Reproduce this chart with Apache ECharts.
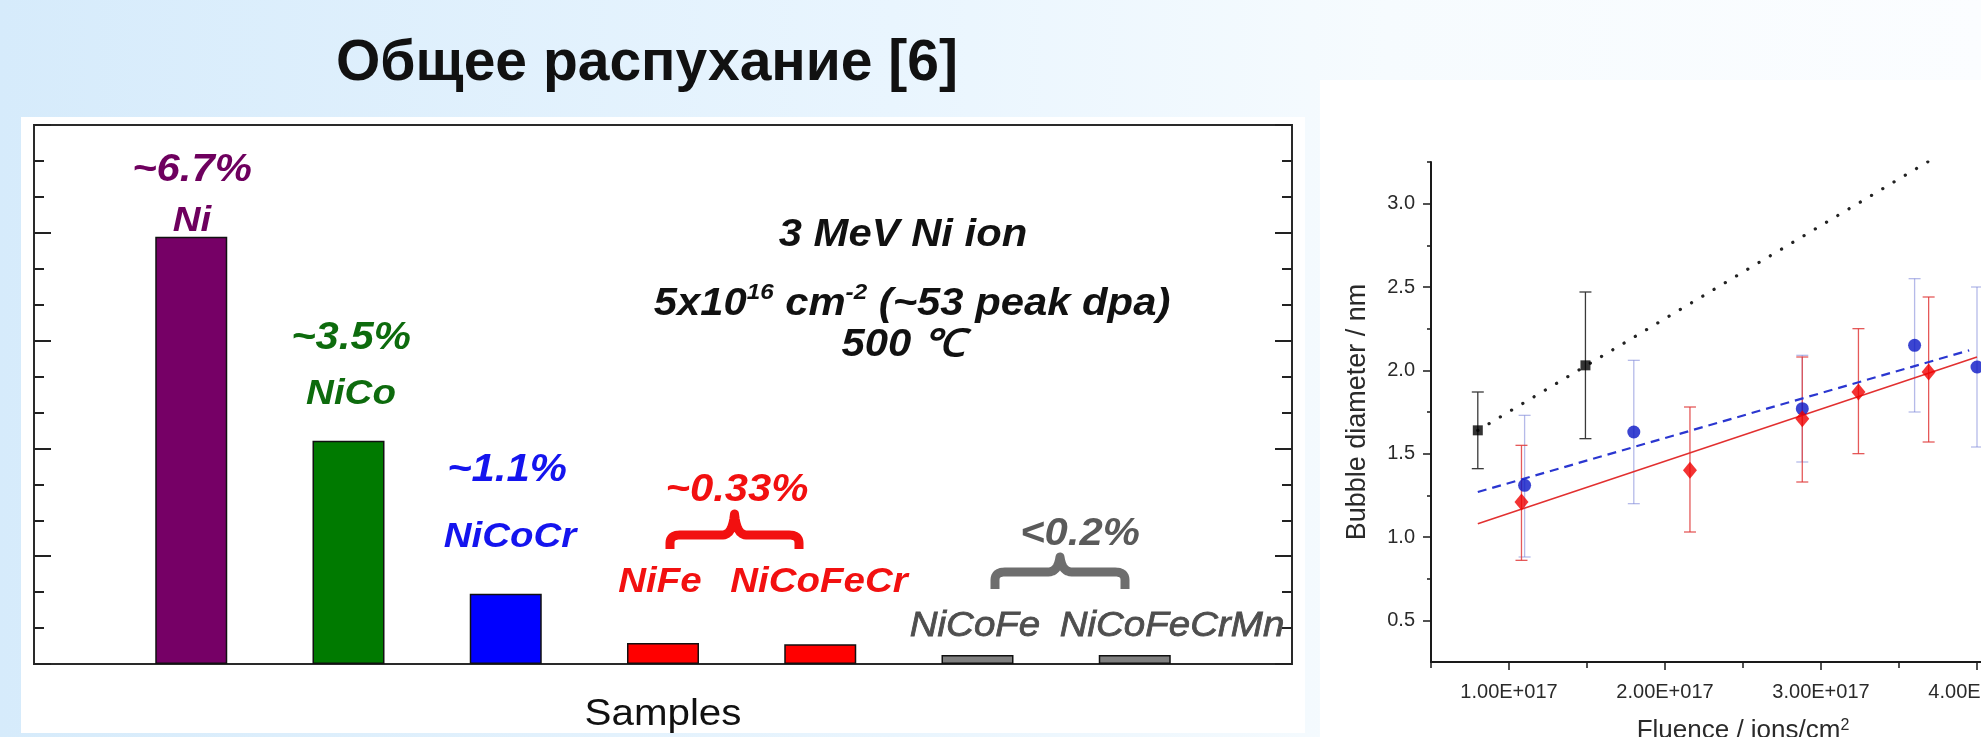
<!DOCTYPE html>
<html>
<head>
<meta charset="utf-8">
<script src="https://cdn.jsdelivr.net/npm/echarts@6/dist/echarts.min.js"></script>
<style>
  html, body { margin: 0; padding: 0; width: 1981px; height: 737px; overflow: hidden; }
  #c { width: 1981px; height: 737px; }
</style>
</head>
<body>
<div id="c"></div>
<script>
// ---- Overall swelling of Ni-based alloys (3 MeV Ni ions, 500 °C) ----
const samples = ['Ni', 'NiCo', 'NiCoCr', 'NiFe', 'NiCoFeCr', 'NiCoFe', 'NiCoFeCrMn'];
const swelling = [6.7, 3.5, 1.1, 0.33, 0.31, 0.14, 0.14];   // %
const barColors = ['#760066', '#007a00', '#0000ff', '#ff0000', '#ff0000', '#808080', '#808080'];

// ---- Bubble diameter vs fluence (fluence in units of 1E+017 ions/cm2) ----
const squareFluence = [0.80, 1.49];
const squareDiam    = [1.64, 2.03];
const squareLow     = [1.41, 1.59];
const squareHigh    = [1.87, 2.47];

const circleFluence = [1.10, 1.80, 2.88, 3.60, 4.00];
const circleDiam    = [1.31, 1.63, 1.77, 2.15, 2.02];
const circleLow     = [0.88, 1.20, 1.45, 1.75, 1.54];
const circleHigh    = [1.73, 2.06, 2.09, 2.55, 2.50];

const diamondFluence = [1.08, 2.16, 2.88, 3.24, 3.69];
const diamondDiam    = [1.21, 1.40, 1.71, 1.87, 1.99];
const diamondLow     = [0.86, 1.03, 1.33, 1.50, 1.57];
const diamondHigh    = [1.55, 1.78, 2.08, 2.25, 2.44];

// linear fits (end points)
const squareFit  = [[0.80, 1.64], [3.70, 3.26]];
const circleFit  = [[0.80, 1.27], [3.95, 2.12]];
const diamondFit = [[0.80, 1.08], [4.00, 2.08]];

const fluenceTicks = [1, 2, 3, 4];
const diamTicks = [0.5, 1.0, 1.5, 2.0, 2.5, 3.0];

const FONT = "'Liberation Sans', Arial, Helvetica, sans-serif";
const chart = echarts.init(document.getElementById('c'));

function txt(text, x, y, color, size, o = {}) {
  return {
    type: 'text', x, y, z: 100, silent: true, scaleX: o.sx ?? 1.1,
    style: {
      text, fill: color, fontSize: size, fontFamily: FONT,
      fontWeight: o.weight ?? 'bold', fontStyle: o.italic === false ? 'normal' : 'italic',
      align: 'center', verticalAlign: 'middle', lineHeight: o.lh, rich: o.rich,
      stroke: o.stroke ? color : null, lineWidth: o.stroke || 0
    }
  };
}

// curly brace opening downwards, as a sampled polyline
function brace(x0, x1, yTop, yMid, yEnd, color) {
  const c = (x0 + x1) / 2;
  const pts = [];
  const quad = (p0, p1, p2) => {
    for (let t = 0; t <= 1.0001; t += 0.125) {
      const u = 1 - t;
      pts.push([u * u * p0[0] + 2 * u * t * p1[0] + t * t * p2[0],
                u * u * p0[1] + 2 * u * t * p1[1] + t * t * p2[1]]);
    }
  };
  pts.push([x0, yEnd]);
  quad([x0, yMid + 8], [x0, yMid], [x0 + 10, yMid]);
  pts.push([c - 12, yMid]);
  quad([c - 12, yMid], [c - 2, yMid], [c, yTop]);
  quad([c, yTop], [c + 2, yMid], [c + 12, yMid]);
  pts.push([x1 - 10, yMid]);
  quad([x1 - 10, yMid], [x1, yMid], [x1, yMid + 8]);
  pts.push([x1, yEnd]);
  return {
    type: 'polyline', z: 100, silent: true,
    shape: { points: pts },
    style: { fill: null, stroke: color, lineWidth: 9, lineJoin: 'round', lineCap: 'butt' }
  };
}

function errorBars(xs, lo, hi, color, z) {
  return {
    type: 'custom', xAxisIndex: 1, yAxisIndex: 2, silent: true, z,
    data: xs.map((x, i) => [x, lo[i], hi[i]]),
    encode: { x: 0, y: [1, 2] },
    renderItem(params, api) {
      const a = api.coord([api.value(0), api.value(1)]);
      const b = api.coord([api.value(0), api.value(2)]);
      const h = 6, st = { stroke: color, lineWidth: 1.3 };
      return {
        type: 'group', children: [
          { type: 'line', shape: { x1: a[0], y1: a[1], x2: b[0], y2: b[1] }, style: st },
          { type: 'line', shape: { x1: a[0] - h, y1: a[1], x2: a[0] + h, y2: a[1] }, style: st },
          { type: 'line', shape: { x1: b[0] - h, y1: b[1], x2: b[0] + h, y2: b[1] }, style: st }
        ]
      };
    }
  };
}

const frameTick = (pos) => ({
  gridIndex: 0, type: 'value', position: pos, min: 0, max: 8.45, interval: 1.69, z: 10,
  axisLine: { show: false },
  axisTick: { show: true, inside: true, length: 17, lineStyle: { color: '#222', width: 2 } },
  minorTick: { show: true, splitNumber: 3, length: 10, lineStyle: { color: '#222', width: 2 } },
  axisLabel: { show: false }, splitLine: { show: false }, minorSplitLine: { show: false }
});

const option = {
  animation: false,
  backgroundColor: new echarts.graphic.LinearGradient(0, 0, 1, 0, [
    { offset: 0, color: '#d6ebfb' },
    { offset: 0.45, color: '#e9f5fe' },
    { offset: 0.7, color: '#f6fbfe' },
    { offset: 1, color: '#fbfdff' }
  ]),
  grid: [
    { left: 34, top: 125, width: 1258, height: 539, show: true, backgroundColor: '#fff',
      borderColor: '#2a2a2a', borderWidth: 2, outerBoundsMode: 'none' },
    { left: 1431, top: 162, width: 624, height: 500, outerBoundsMode: 'none' }
  ],
  xAxis: [
    { gridIndex: 0, type: 'value', min: 0, max: 8, show: false },
    { gridIndex: 1, type: 'value', min: 0.5, max: 4.5, position: 'bottom',
      axisLine: { lineStyle: { color: '#1a1a1a', width: 2 } },
      axisTick: { customValues: fluenceTicks, length: 8, lineStyle: { color: '#1a1a1a', width: 1.5 } },
      axisLabel: { customValues: fluenceTicks, formatter: v => v.toFixed(2) + 'E+017',
                   fontSize: 20, color: '#2a2a2a', fontFamily: FONT, margin: 20 },
      splitLine: { show: false },
      name: 'Fluence / ions/cm{s|2}', nameLocation: 'middle', nameGap: 56,
      nameTextStyle: { fontSize: 26, color: '#2a2a2a', fontFamily: FONT,
                       rich: { s: { fontSize: 16, verticalAlign: 'top', color: '#2a2a2a', fontFamily: FONT } } } },
    { gridIndex: 1, type: 'value', min: 0.5, max: 4.5, position: 'bottom',
      axisLine: { show: false },
      axisTick: { customValues: [0.5, 1.5, 2.5, 3.5, 4.5], length: 6, lineStyle: { color: '#1a1a1a', width: 1.5 } },
      axisLabel: { show: false }, splitLine: { show: false } }
  ],
  yAxis: [
    frameTick('left'),
    frameTick('right'),
    { gridIndex: 1, type: 'value', min: 0.25, max: 3.25, position: 'left',
      axisLine: { show: true, lineStyle: { color: '#1a1a1a', width: 2 } },
      axisTick: { show: true, customValues: diamTicks, length: 8, lineStyle: { color: '#1a1a1a', width: 1.5 } },
      axisLabel: { customValues: diamTicks, formatter: v => v.toFixed(1),
                   fontSize: 20, color: '#2a2a2a', fontFamily: FONT, margin: 16 },
      splitLine: { show: false },
      name: 'Bubble diameter / nm', nameLocation: 'middle', nameGap: 60,
      nameTextStyle: { fontSize: 27, color: '#2a2a2a', fontFamily: FONT } },
    { gridIndex: 1, type: 'value', min: 0.25, max: 3.25, position: 'left',
      axisLine: { show: false },
      axisTick: { show: true, customValues: [0.75, 1.25, 1.75, 2.25, 2.75, 3.25], length: 4,
                  lineStyle: { color: '#1a1a1a', width: 1.5 } },
      axisLabel: { show: false }, splitLine: { show: false } }
  ],
  series: [
    {
      type: 'bar', xAxisIndex: 0, yAxisIndex: 0, barWidth: 72, z: 3,
      data: swelling.map((v, i) => ({ value: [i + 1, v], itemStyle: { color: barColors[i] } })),
      itemStyle: { borderColor: '#111', borderWidth: 1.5 }
    },
    errorBars(squareFluence, squareLow, squareHigh, '#3a3a3a', 2),
    errorBars(circleFluence, circleLow, circleHigh, 'rgba(120,130,215,0.55)', 2),
    errorBars(diamondFluence, diamondLow, diamondHigh, 'rgba(225,60,60,0.85)', 2),
    { type: 'line', xAxisIndex: 1, yAxisIndex: 2, data: squareFit, showSymbol: false, silent: true, z: 3,
      lineStyle: { color: '#222', width: 3.2, type: [0.1, 13], cap: 'round' } },
    { type: 'line', xAxisIndex: 1, yAxisIndex: 2, data: circleFit, showSymbol: false, silent: true, z: 3,
      lineStyle: { color: '#2a36d0', width: 2.2, type: [9, 6] } },
    { type: 'line', xAxisIndex: 1, yAxisIndex: 2, data: diamondFit, showSymbol: false, silent: true, z: 3,
      lineStyle: { color: '#e23030', width: 1.6 } },
    { type: 'scatter', xAxisIndex: 1, yAxisIndex: 2, z: 5, symbol: 'rect', symbolSize: [10, 10],
      itemStyle: { color: '#000' }, data: squareFluence.map((x, i) => [x, squareDiam[i]]) },
    { type: 'scatter', xAxisIndex: 1, yAxisIndex: 2, z: 5, symbol: 'circle', symbolSize: 13,
      itemStyle: { color: '#0a17c6' }, data: circleFluence.map((x, i) => [x, circleDiam[i]]) },
    { type: 'scatter', xAxisIndex: 1, yAxisIndex: 2, z: 5, symbol: 'diamond', symbolSize: [14, 17],
      itemStyle: { color: '#f00000' }, data: diamondFluence.map((x, i) => [x, diamondDiam[i]]) }
  ],
  graphic: [
    // white panels behind both plots
    { type: 'rect', z: -10, silent: true, shape: { x: 21, y: 117, width: 1284, height: 616 }, style: { fill: '#fff' } },
    { type: 'rect', z: -10, silent: true, shape: { x: 1320, y: 80, width: 661, height: 657 }, style: { fill: '#fff' } },

    txt('Общее распухание [6]', 647, 64, '#111', 57, { italic: false, sx: 1 }),

    txt('~6.7%', 192, 171, '#6e005e', 38),
    txt('Ni', 192, 221, '#6e005e', 35),
    txt('~3.5%', 351, 339, '#0d6b0d', 38),
    txt('NiCo', 351, 394, '#0d6b0d', 35),
    txt('~1.1%', 507, 471, '#1414ee', 38),
    txt('NiCoCr', 510, 537, '#1414ee', 35),
    txt('~0.33%', 737, 491, '#f21010', 38),
    brace(670, 799, 514, 535, 549, '#f21010'),
    txt('NiFe', 660, 582, '#f21010', 35),
    txt('NiCoFeCr', 819, 582, '#f21010', 35),
    txt('<0.2%', 1080, 535, '#5a5a5a', 38),
    brace(995, 1125, 557, 572, 589, '#6e6e6e'),
    txt('NiCoFe', 975, 626, '#4e4e4e', 35, { weight: 'normal', stroke: 0.8 }),
    txt('NiCoFeCrMn', 1172, 626, '#4e4e4e', 35, { weight: 'normal', stroke: 0.8 }),

    txt('3 MeV Ni ion', 903, 236, '#111', 38),
    txt('5x10{s|16} cm{s|-2} (~53 peak dpa)', 912, 305, '#111', 38, {
      lh: 46,
      rich: { s: { fontSize: 22, fontWeight: 'bold', fontStyle: 'italic', fontFamily: FONT,
                   fill: '#111', verticalAlign: 'top', lineHeight: 24 } }
    }),
    txt('500 ℃', 903, 346, '#111', 38),

    txt('Samples', 663, 715, '#111', 36, { italic: false, weight: 'normal', sx: 1.12 })
  ]
};

chart.setOption(option);
</script>
</body>
</html>
